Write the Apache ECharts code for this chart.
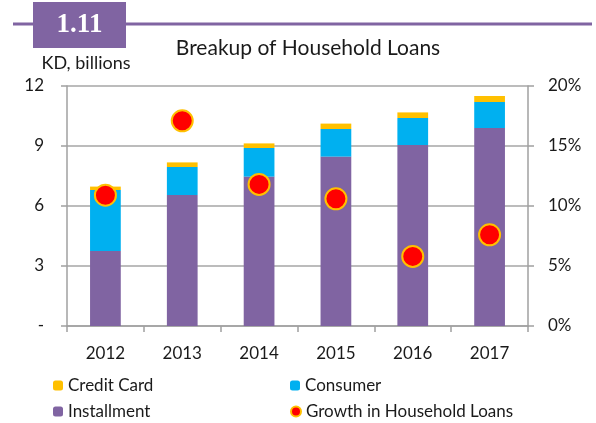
<!DOCTYPE html>
<html>
<head>
<meta charset="utf-8">
<script src="https://cdn.jsdelivr.net/npm/echarts@6/dist/echarts.min.js"></script>
<style>
  html, body { margin: 0; padding: 0; background: #fff; }
  #chart { width: 596px; height: 423px; }
</style>
</head>
<body>
<div id="chart"></div>
<script>
const years = ['2012', '2013', '2014', '2015', '2016', '2017'];
const installment = [3.75, 6.55, 7.47, 8.47, 9.05, 9.9];
const consumer = [3.05, 1.4, 1.43, 1.38, 1.35, 1.3];
const creditCard = [0.17, 0.23, 0.23, 0.27, 0.28, 0.3];
const growth = [10.9, 17.1, 11.8, 10.6, 5.8, 7.6];

const purple = '#8064A2';
const font = 'Lato, "Open Sans", sans-serif';

let chart = echarts.init(document.getElementById('chart'), null, { renderer: 'canvas' });

// one legend per entry so they sit in two columns like the original
function legendAt(left, top, item) {
    return {
        left: left, top: top, itemWidth: 10, itemHeight: 10, itemGap: 0,
        textStyle: { fontSize: 17, color: '#1a1a1a' },
        data: [item]
    };
}

let option = {
    animation: false,
    textStyle: { fontFamily: font },
    title: {
        text: 'Breakup of Household Loans',
        left: 303,
        textAlign: 'center',
        top: 33,
        textStyle: { fontSize: 21, fontWeight: 'normal', color: '#1a1a1a', fontFamily: font }
    },
    graphic: [
        { type: 'line', shape: { x1: 13, y1: 24, x2: 592, y2: 24 }, style: { stroke: purple, lineWidth: 3 } },
        { type: 'rect', shape: { x: 33, y: 2, width: 93, height: 46 }, style: { fill: purple } },
        { type: 'text', x: 79.5, y: 25, style: { text: '1.11', fill: '#fff', font: 'bold 27px "Liberation Serif", serif', textAlign: 'center', textVerticalAlign: 'middle' } },
        { type: 'text', x: 86, y: 63, style: { text: 'KD, billions', fill: '#1a1a1a', font: '18px ' + font, textAlign: 'center', textVerticalAlign: 'middle' } }
    ],
    grid: { left: 67, right: 68, top: 86, bottom: 97 },
    legend: [
        legendAt(48, 372, 'Credit Card'),
        legendAt(48, 398, 'Installment'),
        legendAt(285, 372, 'Consumer'),
        legendAt(285, 398, { name: 'Growth in Household Loans', icon: 'circle' })
    ],
    xAxis: {
        type: 'category',
        data: years,
        axisLine: { lineStyle: { color: '#a0a0a0', width: 1.5 } },
        axisTick: { show: true, alignWithLabel: false, length: 6, lineStyle: { color: '#a0a0a0', width: 1.5 } },
        axisLabel: { fontSize: 17, color: '#1a1a1a', margin: 19 }
    },
    yAxis: [
        {
            type: 'value', min: 0, max: 12, interval: 3,
            axisLine: { show: true, lineStyle: { color: '#a0a0a0', width: 1.5 } },
            axisTick: { show: true, length: 6, lineStyle: { color: '#a0a0a0', width: 1.5 } },
            splitLine: { lineStyle: { color: '#a6a6a6', width: 1.5 } },
            axisLabel: {
                fontSize: 17, color: '#1a1a1a', margin: 23,
                formatter: v => v === 0 ? '-' : v
            }
        },
        {
            type: 'value', min: 0, max: 20, interval: 5,
            axisLine: { show: true, lineStyle: { color: '#a0a0a0', width: 1.5 } },
            axisTick: { show: true, length: 6, lineStyle: { color: '#a0a0a0', width: 1.5 } },
            splitLine: { show: false },
            axisLabel: { fontSize: 17, color: '#1a1a1a', margin: 20, formatter: '{value}%' }
        }
    ],
    series: [
        {
            name: 'Installment', type: 'bar', stack: 'loans', data: installment,
            barWidth: '40%', itemStyle: { color: purple }
        },
        {
            name: 'Consumer', type: 'bar', stack: 'loans', data: consumer,
            itemStyle: { color: '#00B0F0' }
        },
        {
            name: 'Credit Card', type: 'bar', stack: 'loans', data: creditCard,
            itemStyle: { color: '#FFC000' }
        },
        {
            name: 'Growth in Household Loans', type: 'scatter', yAxisIndex: 1, data: growth,
            symbol: 'circle', symbolSize: 21,
            itemStyle: { color: '#FF0000', borderColor: '#FFC000', borderWidth: 2, opacity: 1 }
        }
    ]
};

option && chart.setOption(option);
</script>
</body>
</html>
